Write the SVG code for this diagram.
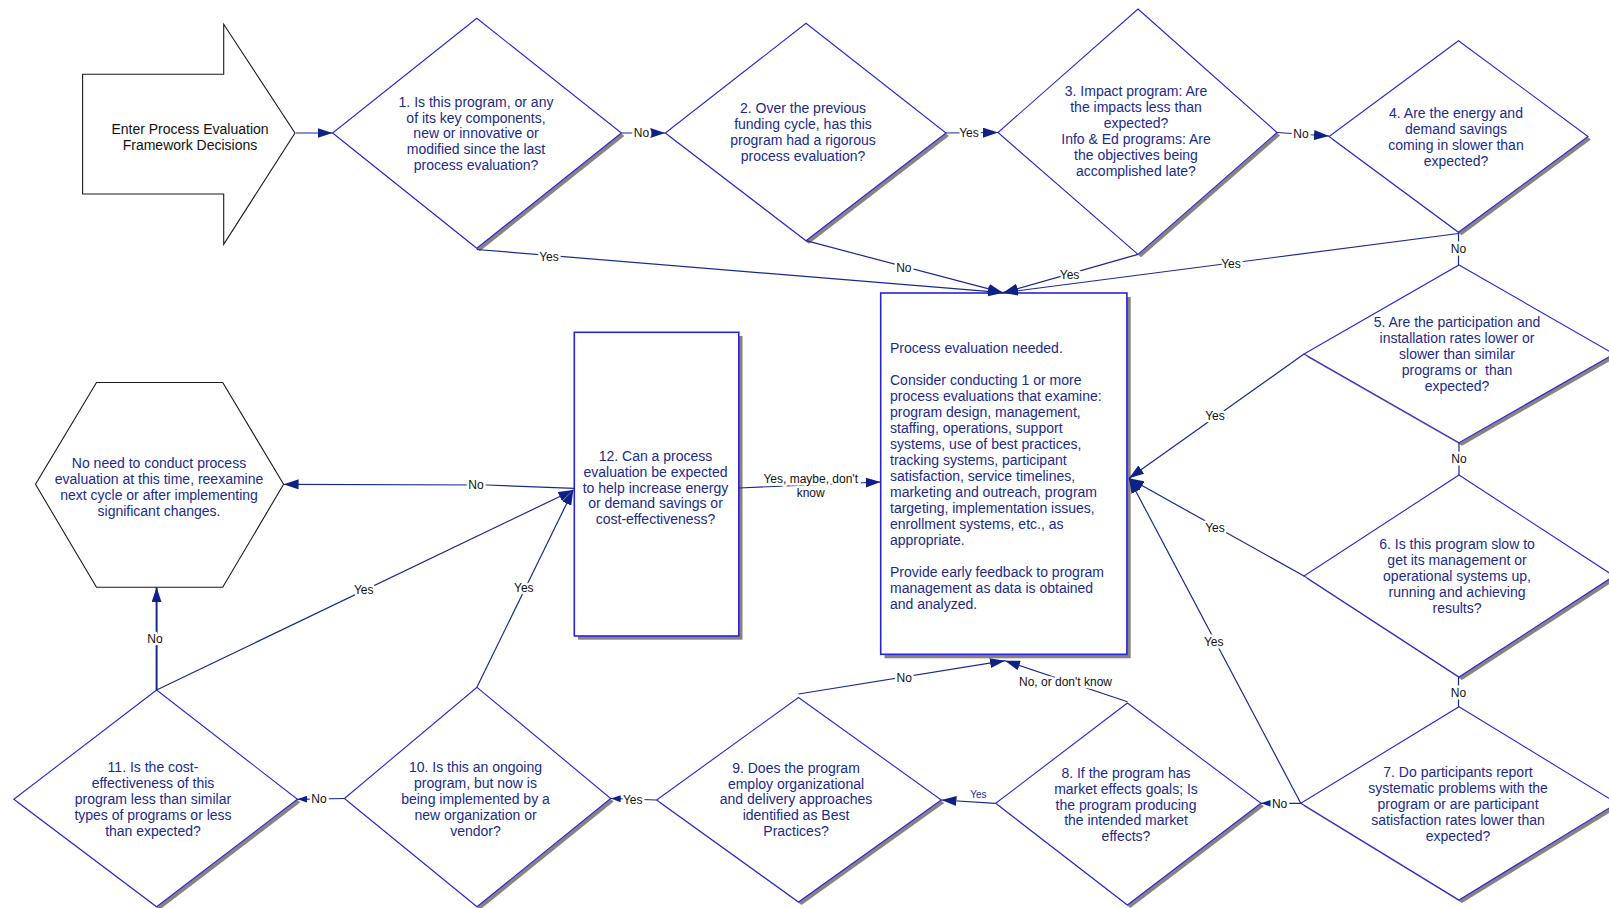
<svg xmlns="http://www.w3.org/2000/svg" width="1609" height="908" viewBox="0 0 1609 908">
<style>
.bg{fill:#ffffff}
.dia{fill:#ffffff;stroke:#2626d8;stroke-width:1.1}
.shd{fill:#8a8282}
.box{fill:#ffffff;stroke:#2626d8;stroke-width:1.6}
.blk{fill:#ffffff;stroke:#1a1a1a;stroke-width:1.1}
.t{font-family:"Liberation Sans",Arial,sans-serif;font-size:14px;fill:#1b2a8c;text-anchor:middle}
.tl{font-family:"Liberation Sans",Arial,sans-serif;font-size:14px;fill:#1b2a8c;text-anchor:start}
.tb{font-family:"Liberation Sans",Arial,sans-serif;font-size:14px;fill:#111111;text-anchor:middle}
.c{fill:none;stroke:#172a8e;stroke-width:1.2}
.lab{font-family:"Liberation Sans",Arial,sans-serif;font-size:12px;fill:#111111;text-anchor:middle;stroke:#ffffff;stroke-width:5px;paint-order:stroke;stroke-linejoin:round}
.labs{font-family:"Liberation Sans",Arial,sans-serif;font-size:10px;fill:#1b2a8c;text-anchor:middle}
</style>
<defs>
<marker id="ah" viewBox="0 0 15 10" refX="15" refY="5" markerWidth="15" markerHeight="10" markerUnits="userSpaceOnUse" orient="auto"><path d="M0,0 L15,5 L0,10 z" fill="#0f2184"/></marker>
<marker id="ahs" viewBox="0 0 10 7" refX="10" refY="3.5" markerWidth="10" markerHeight="7" markerUnits="userSpaceOnUse" orient="auto"><path d="M0,0 L10,3.5 L0,7 z" fill="#0f2184"/></marker>
</defs>
<rect class="bg" x="0" y="0" width="1609" height="908"/>

<g id="start">
<polygon class="blk" points="82.6,74.3 223.7,74.3 223.7,24.3 295,133 223.7,244.3 223.7,194 82.6,194"/>
<text class="tb" x="190" y="134.3">Enter Process Evaluation</text>
<text class="tb" x="190" y="150.3">Framework Decisions</text>
</g>

<g id="d1">
<polygon class="shd" points="479.8,21.3 624.4,136 479.8,251.3 335.6,136"/>
<polygon class="dia" points="476.8,18.3 621.4,133 476.8,248.3 332.6,133"/>
<text class="t" x="476" y="106.7">1. Is this program, or any<tspan x="476" dy="15.8">of its key components,</tspan><tspan x="476" dy="15.8">new or innovative or</tspan><tspan x="476" dy="15.8">modified since the last</tspan><tspan x="476" dy="15.8">process evaluation?</tspan></text>
</g>

<g id="d2">
<polygon class="shd" points="809,26.3 949,136 809,243.7 668.3,136"/>
<polygon class="dia" points="806,23.3 946,133 806,240.7 665.3,133"/>
<text class="t" x="803" y="113.3">2. Over the previous<tspan x="803" dy="15.9">funding cycle, has this</tspan><tspan x="803" dy="15.9">program had a rigorous</tspan><tspan x="803" dy="15.9">process evaluation?</tspan></text>
</g>

<g id="d3">
<polygon class="shd" points="1141,12 1280,135.5 1141,257.3 1001,135.5"/>
<polygon class="dia" points="1138,9 1277,132.5 1138,254.3 998,132.5"/>
<text class="t" x="1136" y="96">3. Impact program: Are<tspan x="1136" dy="16">the impacts less than</tspan><tspan x="1136" dy="16">expected?</tspan><tspan x="1136" dy="16">Info &amp; Ed programs: Are</tspan><tspan x="1136" dy="16">the objectives being</tspan><tspan x="1136" dy="16">accomplished late?</tspan></text>
</g>

<g id="d4">
<polygon class="shd" points="1461.5,43.7 1591,139.5 1461.5,235.3 1332,139.5"/>
<polygon class="dia" points="1458.5,40.7 1588,136.5 1458.5,232.3 1329,136.5"/>
<text class="t" x="1456" y="118.3">4. Are the energy and<tspan x="1456" dy="16">demand savings</tspan><tspan x="1456" dy="16">coming in slower than</tspan><tspan x="1456" dy="16">expected?</tspan></text>
</g>

<g id="d5">
<polygon class="shd" points="1462,268 1617,357 1462,445.7 1307,357"/>
<polygon class="dia" points="1459,265 1614,354 1459,442.7 1304,354"/>
<text class="t" x="1457" y="327.3" xml:space="preserve">5. Are the participation and<tspan x="1457" dy="16">installation rates lower or</tspan><tspan x="1457" dy="16">slower than similar</tspan><tspan x="1457" dy="16">programs or  than</tspan><tspan x="1457" dy="16">expected?</tspan></text>
</g>

<g id="d6">
<polygon class="shd" points="1462,478 1617,579 1462,680 1307,579"/>
<polygon class="dia" points="1459,475 1614,576 1459,677 1304,576"/>
<text class="t" x="1457" y="549.3">6. Is this program slow to<tspan x="1457" dy="16">get its management or</tspan><tspan x="1457" dy="16">operational systems up,</tspan><tspan x="1457" dy="16">running and achieving</tspan><tspan x="1457" dy="16">results?</tspan></text>
</g>

<g id="d7">
<polygon class="shd" points="1462,709.7 1620,806.3 1462,903 1303.8,806.3"/>
<polygon class="dia" points="1459,706.7 1617,803.3 1459,900 1300.8,803.3"/>
<text class="t" x="1458" y="776.7">7. Do participants report<tspan x="1458" dy="16">systematic problems with the</tspan><tspan x="1458" dy="16">program or are participant</tspan><tspan x="1458" dy="16">satisfaction rates lower than</tspan><tspan x="1458" dy="16">expected?</tspan></text>
</g>

<g id="d8">
<polygon class="shd" points="1130.4,706 1264,806.3 1130.4,908 998.7,806.3"/>
<polygon class="dia" points="1127.4,703 1261,803.3 1127.4,905 995.7,803.3"/>
<text class="t" x="1126" y="777.7">8. If the program has<tspan x="1126" dy="15.9">market effects goals; Is</tspan><tspan x="1126" dy="15.9">the program producing</tspan><tspan x="1126" dy="15.9">the intended market</tspan><tspan x="1126" dy="15.9">effects?</tspan></text>
</g>

<g id="d9">
<polygon class="shd" points="801.5,700.5 944.3,803 801.5,905 659.6,803"/>
<polygon class="dia" points="798.5,697.5 941.3,800 798.5,902 656.6,800"/>
<text class="t" x="796" y="772.6">9. Does the program<tspan x="796" dy="15.9">employ organizational</tspan><tspan x="796" dy="15.9">and delivery approaches</tspan><tspan x="796" dy="15.9">identified as Best</tspan><tspan x="796" dy="15.9">Practices?</tspan></text>
</g>

<g id="d10">
<polygon class="shd" points="480,690.3 613.7,801.5 480,909.7 347.4,801.5"/>
<polygon class="dia" points="477,687.3 610.7,798.5 477,906.7 344.4,798.5"/>
<text class="t" x="475.5" y="771.7">10. Is this an ongoing<tspan x="475.5" dy="16">program, but now is</tspan><tspan x="475.5" dy="16">being implemented by a</tspan><tspan x="475.5" dy="16">new organization or</tspan><tspan x="475.5" dy="16">vendor?</tspan></text>
</g>

<g id="d11">
<polygon class="shd" points="159.6,693 300.4,802.3 159.6,909.7 16.8,802.3"/>
<polygon class="dia" points="156.6,690 297.4,799.3 156.6,906.7 13.8,799.3"/>
<text class="t" x="153" y="772.3">11. Is the cost-<tspan x="153" dy="16">effectiveness of this</tspan><tspan x="153" dy="16">program less than similar</tspan><tspan x="153" dy="16">types of programs or less</tspan><tspan x="153" dy="16">than expected?</tspan></text>
</g>

<g id="nochange">
<polygon class="blk" points="96.5,382.5 222.7,382.5 283.6,484.3 222.7,587.3 96.5,587.3 35.5,484.3"/>
<text class="t" x="159" y="468.3">No need to conduct process<tspan x="159" dy="16">evaluation at this time, reexamine</tspan><tspan x="159" dy="16">next cycle or after implementing</tspan><tspan x="159" dy="16">significant changes.</tspan></text>
</g>

<g id="q12">
<rect class="shd" x="578" y="336" width="164.5" height="303.7"/>
<rect class="box" x="574.3" y="332.3" width="164.5" height="303.7"/>
<text class="t" x="655.5" y="460.7">12. Can a process<tspan x="655.5" dy="15.9">evaluation be expected</tspan><tspan x="655.5" dy="15.9">to help increase energy</tspan><tspan x="655.5" dy="15.9">or demand savings or</tspan><tspan x="655.5" dy="15.9">cost-effectiveness?</tspan></text>
</g>

<g id="needed">
<rect class="shd" x="884.5" y="297" width="246.2" height="361.3"/>
<rect class="box" x="880.7" y="293" width="246.2" height="361.3"/>
<text class="tl" x="890" y="353.3">Process evaluation needed.<tspan x="890" dy="32">Consider conducting 1 or more</tspan><tspan x="890" dy="16">process evaluations that examine:</tspan><tspan x="890" dy="16">program design, management,</tspan><tspan x="890" dy="16">staffing, operations, support</tspan><tspan x="890" dy="16">systems, use of best practices,</tspan><tspan x="890" dy="16">tracking systems, participant</tspan><tspan x="890" dy="16">satisfaction, service timelines,</tspan><tspan x="890" dy="16">marketing and outreach, program</tspan><tspan x="890" dy="16">targeting, implementation issues,</tspan><tspan x="890" dy="16">enrollment systems, etc., as</tspan><tspan x="890" dy="16">appropriate.</tspan><tspan x="890" dy="32">Provide early feedback to program</tspan><tspan x="890" dy="16">management as data is obtained</tspan><tspan x="890" dy="16">and analyzed.</tspan></text>
</g>

<g id="connectors">
<path class="c" d="M296,133 L332.6,133" marker-end="url(#ah)"/>
<path class="c" d="M621.4,133 L665.3,133" marker-end="url(#ah)"/>
<path class="c" d="M946,133 L998,132.5" marker-end="url(#ah)"/>
<path class="c" d="M1277,132.5 L1329,136" marker-end="url(#ah)"/>
<path class="c" d="M1458.5,232.3 L1458.5,265"/>
<path class="c" d="M1459,442.7 L1459,475"/>
<path class="c" d="M1458.5,677 L1458.5,706.7"/>
<path class="c" d="M1300.8,803.3 L1261,803.3" marker-end="url(#ahs)"/>
<path class="c" d="M995.7,803.3 L941.5,800" marker-end="url(#ah)"/>
<path class="c" d="M656.6,800 L610.7,798.5" marker-end="url(#ahs)"/>
<path class="c" d="M344.4,798.5 L297.4,799.3" marker-end="url(#ahs)"/>
<path class="c" style="stroke-width:2" d="M156.6,690 L156.6,587.3" marker-end="url(#ah)"/>
<path class="c" d="M156.6,690 L573.3,490" marker-end="url(#ah)"/>
<path class="c" d="M477,687 L573.3,490" marker-end="url(#ah)"/>
<path class="c" d="M574.3,488.3 L487,485 L283.6,484.3" marker-end="url(#ah)"/>
<path class="c" d="M738.8,488 L880.7,482" marker-end="url(#ah)"/>
<path class="c" d="M476.8,249.5 L1003,292.7" marker-end="url(#ah)"/>
<path class="c" d="M806,240.7 L1003,292.7" marker-end="url(#ah)"/>
<path class="c" d="M1138,254.3 L1003,292.7" marker-end="url(#ah)"/>
<path class="c" d="M1458.5,233.5 L1003,292.7" marker-end="url(#ah)"/>
<path class="c" d="M1304,354 L1129,478.3" marker-end="url(#ah)"/>
<path class="c" d="M1304,576 L1129,478.3" marker-end="url(#ah)"/>
<path class="c" d="M1300.8,803.3 L1129,478.3" marker-end="url(#ah)"/>
<path class="c" d="M798.5,694 L1005,660.7" marker-end="url(#ah)"/>
<path class="c" d="M1127.4,701.7 L1005,660.7" marker-end="url(#ah)"/>

<text class="lab" x="641.5" y="137.3">No</text>
<text class="lab" x="969" y="137.3">Yes</text>
<text class="lab" x="1301" y="137.8">No</text>
<text class="lab" x="1458.5" y="253">No</text>
<text class="lab" x="1459" y="463.3">No</text>
<text class="lab" x="1458.5" y="696.6">No</text>
<text class="lab" x="1279.6" y="808.3">No</text>
<text class="labs" x="978.3" y="797.5">Yes</text>
<text class="lab" x="632.7" y="804.3">Yes</text>
<text class="lab" x="319" y="802.8">No</text>
<text class="lab" x="155" y="643.3">No</text>
<text class="lab" x="363.7" y="593.6">Yes</text>
<text class="lab" x="523.8" y="592">Yes</text>
<text class="lab" x="476" y="489.3">No</text>
<text class="lab" x="810.7" y="482.6">Yes, maybe, don't</text>
<text class="lab" x="810.7" y="497">know</text>
<text class="lab" x="549" y="261">Yes</text>
<text class="lab" x="903.8" y="272">No</text>
<text class="lab" x="1069.6" y="278.6">Yes</text>
<text class="lab" x="1231" y="268">Yes</text>
<text class="lab" x="1215" y="420">Yes</text>
<text class="lab" x="1215" y="532">Yes</text>
<text class="lab" x="1213.7" y="646">Yes</text>
<text class="lab" x="904.2" y="682">No</text>
<text class="lab" x="1065.5" y="686.3">No, or don't know</text>
</g>
</svg>
